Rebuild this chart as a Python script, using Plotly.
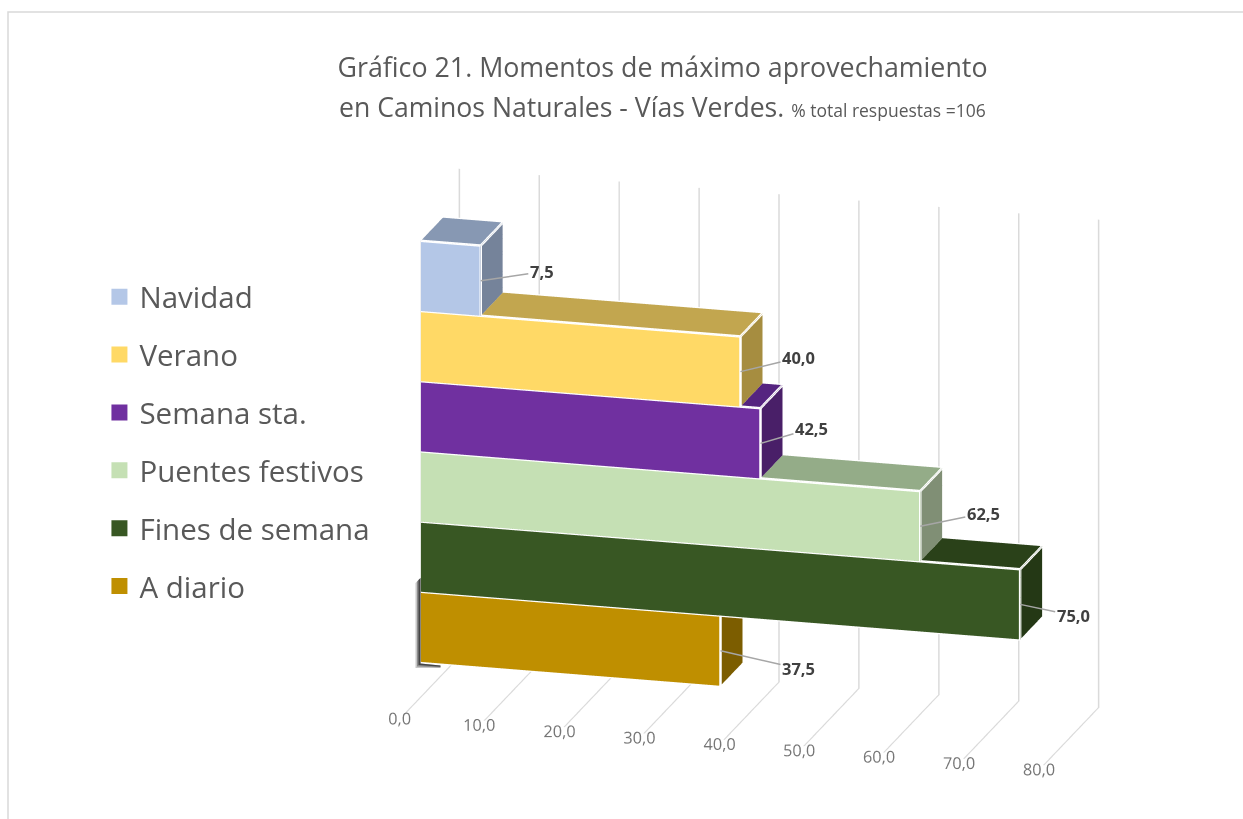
import plotly.graph_objects as go
import math

categories = ["Navidad", "Verano", "Semana sta.", "Puentes festivos", "Fines de semana", "A diario"]
values = [7.5, 40.0, 42.5, 62.5, 75.0, 37.5]
axis_ticks = [0, 10, 20, 30, 40, 50, 60, 70, 80]

front_colors = ["#B4C7E7", "#FFD966", "#7030A0", "#C5E0B4", "#385723", "#BF8F00"]
top_colors = ["#8798B3", "#C2A64F", "#552480", "#94AC88", "#2A4119", "#8F6B00"]
side_colors = ["#75839A", "#A68D40", "#491F68", "#808F75", "#243815", "#7C5D00"]

leader_offsets = [(61, -9), (58, -14), (51, -15), (63, -13), (53, 11), (78, 18)]

BAR_Y0, BAR_Y1 = 0.30, 0.70
n = len(categories)
W, H = 1243, 819

TRI_I = [0, 0, 4, 4, 0, 0, 3, 3, 0, 0, 1, 1]
TRI_J = [1, 2, 6, 7, 4, 5, 2, 6, 3, 7, 5, 6]
TRI_K = [2, 3, 5, 6, 5, 1, 6, 7, 7, 4, 6, 2]


def box(v, z0):
    z1 = z0 + 1
    xs = [0, v, v, 0, 0, v, v, 0]
    ys = [BAR_Y0, BAR_Y0, BAR_Y1, BAR_Y1, BAR_Y0, BAR_Y0, BAR_Y1, BAR_Y1]
    zs = [z0, z0, z0, z0, z1, z1, z1, z1]
    return xs, ys, zs


def px_path(points):
    return "M " + " L ".join("%f,%f" % (x / W, 1 - y / H) for x, y in points) + " Z"


fig = go.Figure()
edges = [(0, 1), (1, 2), (2, 3), (3, 0), (4, 5), (5, 6), (6, 7), (7, 4), (0, 4), (1, 5), (2, 6), (3, 7)]
annots = []
for i, (cat, v) in enumerate(zip(categories, values)):
    z0 = n - 1 - i
    xs, ys, zs = box(v, z0)
    f, t, s = front_colors[i], top_colors[i], side_colors[i]
    fc = [s, s, t, t, f, f, s, s, s, s, s, s]
    fig.add_trace(go.Mesh3d(x=xs, y=ys, z=zs, i=TRI_I, j=TRI_J, k=TRI_K, facecolor=fc,
                            flatshading=True, hoverinfo="skip", showlegend=False, showscale=False,
                            lighting=dict(ambient=1, diffuse=0, specular=0, roughness=1, fresnel=0)))
    ex, ey, ez = [], [], []
    for a, b in edges:
        ex += [xs[a], xs[b], None]
        ey += [ys[a], ys[b], None]
        ez += [zs[a], zs[b], None]
    fig.add_trace(go.Scatter3d(x=ex, y=ey, z=ez, mode="lines", line=dict(color="white", width=5),
                               hoverinfo="skip", showlegend=False))
    ax, ay = leader_offsets[i]
    annots.append(dict(x=v, y=BAR_Y0, z=z0 + 0.5, text="<b>%s</b>" % f"{v:.1f}".replace(".", ","),
                       showarrow=True, ax=ax, ay=ay, arrowhead=0, arrowwidth=1.5, arrowcolor="#A6A6A6",
                       font=dict(family="Open Sans", size=16.5, color="#404040")))

for i, cat in enumerate(categories):
    fig.add_trace(go.Scatter3d(x=[None], y=[None], z=[None], mode="markers", name=cat, legendgroup=cat,
                               marker=dict(symbol="square", size=16, color=front_colors[i]),
                               hoverinfo="skip"))

az = math.radians(15.4)
el = math.radians(16.8)
D = 2.0
eye = dict(x=D * math.cos(el) * math.sin(az), y=-D * math.cos(el) * math.cos(az), z=D * math.sin(el))
hidden = dict(showgrid=False, showticklabels=False, showline=False, zeroline=False, ticks="",
              showbackground=False, showspikes=False, title="", visible=True)

shapes = [dict(type="path", xref="paper", yref="paper", path="M %f,0 L %f,%f L 1,%f" % (
    8 / W, 8 / W, 1 - 12 / H, 1 - 12 / H), line=dict(color="#D9D9D9", width=1.5))]
SHADOW_X = 420.5
for out, op in ((5, 0.22), (3.5, 0.3), (2, 0.5)):
    shapes.append(dict(type="path", xref="paper", yref="paper", line=dict(width=0), fillcolor="black", opacity=op,
                       path=px_path([(SHADOW_X, 578), (SHADOW_X - out, 578 + out), (SHADOW_X - out, 663 + out),
                                     (SHADOW_X + 20, 666 + out * 0.4), (SHADOW_X + 20, 665.5), (SHADOW_X, 663.5)])))

fig.update_layout(
    width=W, height=H, margin=dict(l=0, r=0, t=0, b=0), paper_bgcolor="white",
    separators=",.", hovermode=False,
    font=dict(family="Open Sans", color="#595959"),
    title=dict(text="Gráfico 21. Momentos de máximo aprovechamiento",
               x=0.533, xanchor="center", y=1 - 68 / H, yanchor="middle",
               font=dict(family="Open Sans", size=26.8, color="#595959")),
    annotations=[dict(text="en Caminos Naturales - Vías Verdes. "
                           "<span style='font-size:17.5px'>% total respuestas =106</span>",
                      xref="paper", yref="paper", x=0.533, y=1 - 107 / H, xanchor="center", yanchor="middle",
                      showarrow=False, font=dict(family="Open Sans", size=26.6, color="#595959"))],
    legend=dict(x=0.08, y=0.669, xanchor="left", yanchor="top", traceorder="grouped", tracegroupgap=16.5,
                font=dict(family="Open Sans", size=29.5, color="#595959"), bgcolor="rgba(0,0,0,0)"),
    scene=dict(
        domain=dict(x=[0.2092, 1], y=[0.0037, 0.8557]),
        aspectmode="manual", aspectratio=dict(x=1.90, y=0.594, z=1.46),
        camera=dict(eye=eye, up=dict(x=0, y=0, z=1), center=dict(x=0, y=0, z=0),
                    projection=dict(type="orthographic")),
        xaxis=dict(range=[0, 80], tickvals=axis_ticks, tickformat=".1f", showgrid=True, gridcolor="#DADADA",
                   gridwidth=3, showline=False, zeroline=False, ticks="", showbackground=False, tickangle=0,
                   showspikes=False, title="", tickfont=dict(family="Open Sans", size=14, color="#767676")),
        yaxis=dict(range=[0, 1], **hidden),
        zaxis=dict(range=[-0.5, 6.45], **hidden),
        annotations=annots,
    ),
    shapes=shapes,
)
fig.write_html("out.html", config=dict(displayModeBar=False),
               post_script="document.body.style.margin='0';document.body.style.overflow='hidden';")
